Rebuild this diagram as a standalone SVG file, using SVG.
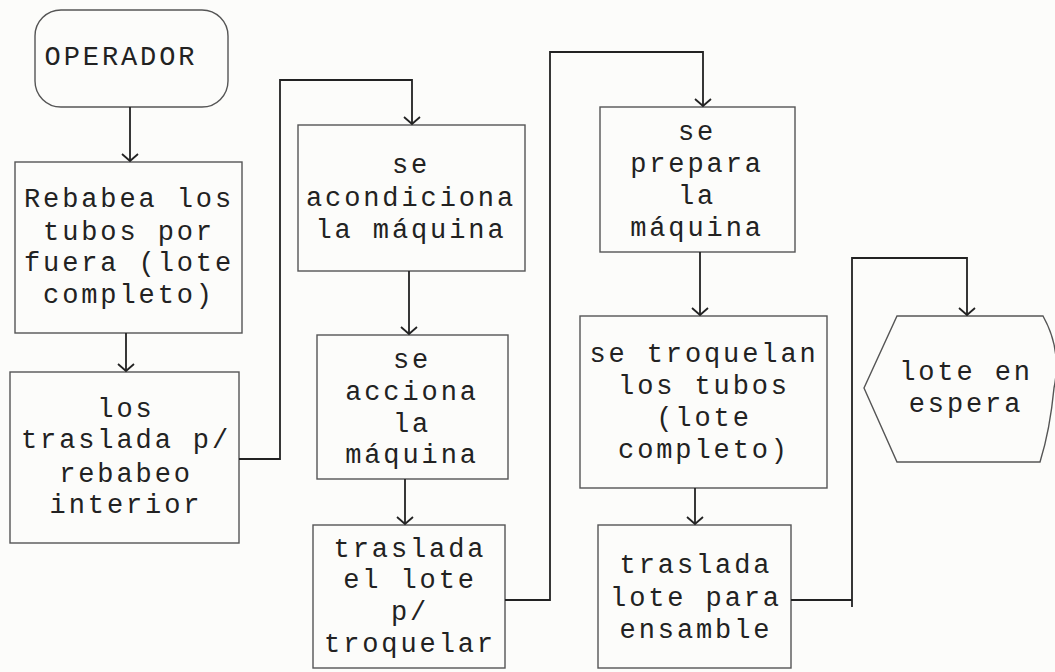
<svg xmlns="http://www.w3.org/2000/svg" width="1055" height="672" viewBox="0 0 1055 672">
<style>
.box{fill:none;stroke:#555;stroke-width:1.4}
.t{font-family:"Liberation Mono","DejaVu Sans Mono",monospace;font-size:27px;letter-spacing:2.9px;fill:#222;text-anchor:middle}
.c{fill:none;stroke:#222;stroke-width:1.8}
</style>
<defs>
<marker id="ah" viewBox="-9 -10 11 20" refX="0" refY="0" markerWidth="11" markerHeight="20" markerUnits="userSpaceOnUse" orient="auto">
<path d="M-7,-8 L0,0 L-7,8" fill="none" stroke="#222" stroke-width="1.8"/>
</marker>
</defs>
<rect width="1055" height="672" fill="#fcfcfa"/>
<g id="operador">
<rect class="box" x="35" y="10" width="193" height="97" rx="26"/>
<text class="t" x="121" y="65">OPERADOR</text>
</g>
<g id="rebabea">
<rect class="box" x="15" y="162" width="227" height="171"/>
<text class="t" x="129" y="207">Rebabea los</text>
<text class="t" x="129" y="240">tubos por</text>
<text class="t" x="129" y="271">fuera (lote</text>
<text class="t" x="129" y="303">completo)</text>
</g>
<g id="traslada1">
<rect class="box" x="10" y="372" width="229" height="171"/>
<text class="t" x="126" y="417">los</text>
<text class="t" x="126" y="448">traslada p/</text>
<text class="t" x="126" y="482">rebabeo</text>
<text class="t" x="126" y="513">interior</text>
</g>
<g id="acondiciona">
<rect class="box" x="298" y="125" width="227" height="146"/>
<text class="t" x="411" y="173">se</text>
<text class="t" x="411" y="206">acondiciona</text>
<text class="t" x="411" y="238">la máquina</text>
</g>
<g id="acciona">
<rect class="box" x="317" y="335" width="191" height="144"/>
<text class="t" x="412" y="368">se</text>
<text class="t" x="412" y="400">acciona</text>
<text class="t" x="412" y="432">la</text>
<text class="t" x="412" y="463">máquina</text>
</g>
<g id="traslada2">
<rect class="box" x="313" y="525" width="192" height="143"/>
<text class="t" x="410" y="557">traslada</text>
<text class="t" x="410" y="588">el lote</text>
<text class="t" x="410" y="620">p/</text>
<text class="t" x="410" y="652">troquelar</text>
</g>
<g id="prepara">
<rect class="box" x="600" y="107" width="195" height="145"/>
<text class="t" x="697" y="140">se</text>
<text class="t" x="697" y="172">prepara</text>
<text class="t" x="697" y="204">la</text>
<text class="t" x="697" y="236">máquina</text>
</g>
<g id="troquelan">
<rect class="box" x="580" y="316" width="247" height="172"/>
<text class="t" x="704" y="362">se troquelan</text>
<text class="t" x="704" y="394">los tubos</text>
<text class="t" x="704" y="426">(lote</text>
<text class="t" x="704" y="458">completo)</text>
</g>
<g id="traslada3">
<rect class="box" x="598" y="525" width="193" height="143"/>
<text class="t" x="696" y="573">traslada</text>
<text class="t" x="696" y="606">lote para</text>
<text class="t" x="696" y="638">ensamble</text>
</g>
<g id="espera">
<path class="box" d="M897,316 L1043,316 Q1062,350 1054,388 Q1050,430 1040,462 L897,462 L864,388 Z"/>
<text class="t" x="966" y="380">lote en</text>
<text class="t" x="966" y="412">espera</text>
</g>
<g id="connectors">
<path class="c" d="M130,107 V161" marker-end="url(#ah)"/>
<path class="c" d="M126,333 V371" marker-end="url(#ah)"/>
<path class="c" d="M239,459 H280 V80 H412 V124" marker-end="url(#ah)"/>
<path class="c" d="M409,271 V334" marker-end="url(#ah)"/>
<path class="c" d="M405,479 V524" marker-end="url(#ah)"/>
<path class="c" d="M505,600 H550 V52 H703 V106" marker-end="url(#ah)"/>
<path class="c" d="M700,252 V315" marker-end="url(#ah)"/>
<path class="c" d="M695,488 V524" marker-end="url(#ah)"/>
<path class="c" d="M791,600 H852"/>
<path class="c" d="M852,607 V258 H967 V315" marker-end="url(#ah)"/>
</g>
</svg>
